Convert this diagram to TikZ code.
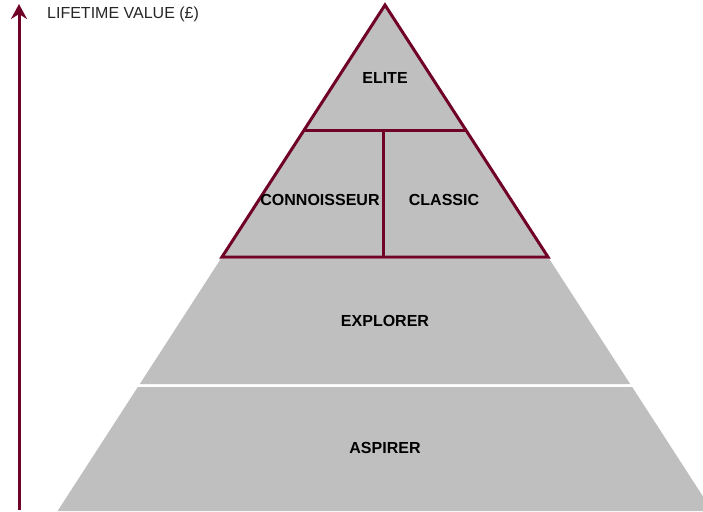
\documentclass[tikz,border=0pt]{standalone}
\usepackage{fontspec}
\setmainfont{Liberation Sans}
\usetikzlibrary{arrows.meta}
\definecolor{wine}{RGB}{112,2,40}
\definecolor{tier}{RGB}{191,191,191}
\tikzset{
  tierfill/.style={fill=tier,draw=none},
  tierline/.style={draw=wine,line width=3pt,line join=miter},
  tierlabel/.style={font=\fontsize{16}{18}\selectfont\bfseries,text=black,inner sep=0pt},
  axis/.style={draw=wine,line width=3pt,-{Stealth[length=15pt,width=16pt,inset=5pt]}},
  axislabel/.style={font=\fontsize{16}{18}\selectfont,text=black!85,anchor=west,inner sep=0pt}
}
\begin{document}
\begin{tikzpicture}[x=1pt,y=-1pt]
\useasboundingbox (0,0) rectangle (703,511);
\begin{scope}
\clip (0,0) rectangle (703,511);
% lower tiers
\fill[tierfill] (137.8,387) -- (632.2,387) -- (712.4,511) -- (57.6,511) -- cycle;
\fill[tierfill] (220.7,259) -- (549.3,259) -- (630.2,384) -- (139.8,384) -- cycle;
\end{scope}
% upper tiers
\fill[tierfill] (385,5) -- (548,257) -- (222,257) -- cycle;
\draw[tierline] (304,130) -- (466,130);
\draw[tierline] (383,130) -- (383,257);
\draw[tierline] (385,5) -- (548,257) -- (222,257) -- cycle;
% tier names
\node[tierlabel] (elite) at (385,78) {ELITE};
\node[tierlabel] (conn) at (320,200) {CONNOISSEUR};
\node[tierlabel] (classic) at (444,200) {CLASSIC};
\node[tierlabel] (explorer) at (385,321) {EXPLORER};
\node[tierlabel] (aspirer) at (385,448) {ASPIRER};
% value axis
\coordinate (axbase) at (19,510);
\coordinate (axtip) at (19,4);
\draw[axis] (axbase) -- (axtip);
\node[axislabel] (axname) at (47,14) {LIFETIME VALUE (£)};
\end{tikzpicture}
\end{document}
